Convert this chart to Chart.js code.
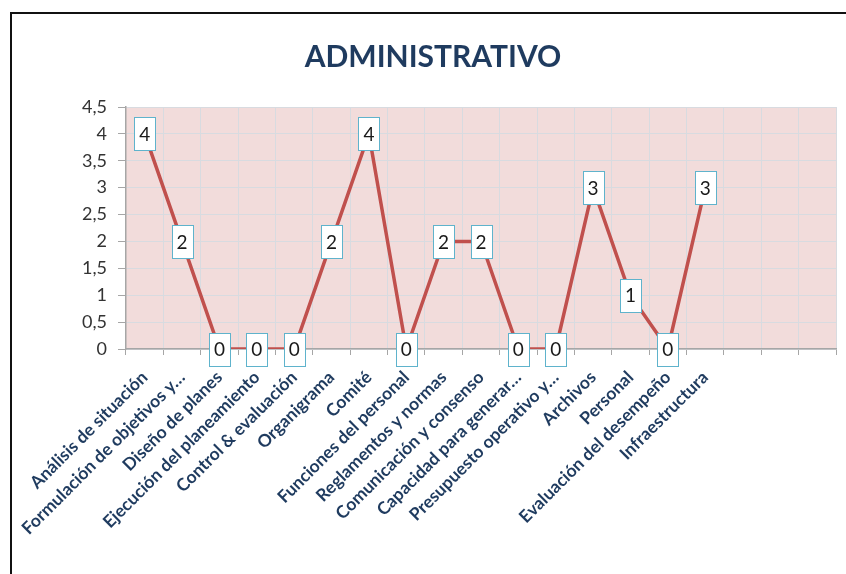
<!DOCTYPE html>
<html>
<head>
<meta charset="utf-8">
<script src="https://cdn.jsdelivr.net/npm/chart.js@4.4.1/dist/chart.umd.min.js"></script>
<style>
  body { margin: 0; background: #fff; }
  #frame { position: absolute; left: 10px; top: 12px; width: 836px; height: 562px;
           border-top: 2px solid #111; border-left: 2px solid #111; box-sizing: border-box; }
  #chart { position: absolute; left: 0; top: 0; }
</style>
</head>
<body>
<div id="frame"></div>
<canvas id="chart" width="846" height="574"></canvas>
<script>
'use strict';

/* ── Data ─────────────────────────────────────────────────── */
const chartTitle = 'ADMINISTRATIVO';
const categories = [
  'Análisis de situación', 'Formulación de objetivos y…', 'Diseño de planes',
  'Ejecución del planeamiento', 'Control & evaluación', 'Organigrama', 'Comité',
  'Funciones del personal', 'Reglamentos y normas', 'Comunicación y consenso',
  'Capacidad para generar…', 'Presupuesto operativo y…', 'Archivos', 'Personal',
  'Evaluación del desempeño', 'Infraestructura', '', '', ''
];
const values = [4, 2, 0, 0, 0, 2, 4, 0, 2, 2, 0, 0, 3, 1, 0, 3];
const yMin = 0, yMax = 4.5, yStep = 0.5;

/* ── Plugins ──────────────────────────────────────────────── */
const plotBackground = {
  id: 'plotBackground',
  beforeDraw(chart) {
    const { ctx, chartArea: a } = chart;
    ctx.save();
    ctx.fillStyle = '#f2dcdb';
    ctx.fillRect(a.left, a.top, a.right - a.left, a.bottom - a.top);
    ctx.restore();
  }
};

const boxLabels = {
  id: 'boxLabels',
  afterDatasetsDraw(chart) {
    const { ctx } = chart;
    const meta = chart.getDatasetMeta(0);
    ctx.save();
    ctx.font = '19px Lato';
    ctx.textAlign = 'center';
    ctx.textBaseline = 'middle';
    meta.data.forEach((pt, i) => {
      const v = values[i];
      if (v == null) return;
      const w = 21, h = 33;
      const x = Math.round(pt.x - w / 2) + 0.5, y = Math.round(pt.y - h / 2) + 0.5;
      ctx.fillStyle = '#fff';
      ctx.fillRect(x, y, w, h);
      ctx.strokeStyle = '#5fb3cc';
      ctx.lineWidth = 1;
      ctx.strokeRect(x, y, w, h);
      ctx.fillStyle = '#1a1a1a';
      ctx.fillText(String(v), pt.x, pt.y + 1);
    });
    ctx.restore();
  }
};

/* ── Chart ────────────────────────────────────────────────── */
new Chart(document.getElementById('chart'), {
  type: 'line',
  data: {
    labels: categories,
    datasets: [{
      data: values,
      borderColor: '#c0504d',
      borderWidth: 3.5,
      pointRadius: 0,
      tension: 0,
    }]
  },
  options: {
    responsive: false,
    animation: false,
    layout: { padding: { left: 30, right: 10, top: 0, bottom: 0 } },
    plugins: {
      legend: { display: false },
      tooltip: { enabled: false },
      title: {
        display: true,
        text: chartTitle,
        color: '#1f3b5f',
        font: { family: 'Lato', size: 30, weight: 'bold', lineHeight: 1.2 },
        padding: { top: 39, bottom: 32 }
      }
    },
    scales: {
      x: {
        offset: true,
        grid: { offset: true, color: '#d8dbe0', tickColor: '#a6a6a6', tickLength: 6 },
        border: { color: '#a6a6a6', width: 1.5 },
        ticks: {
          autoSkip: false, minRotation: 45, maxRotation: 45, padding: 12,
          color: '#1f3b5f',
          font: { family: 'Lato', size: 17.5, weight: 'bold' }
        },
        afterFit(scale) { scale.height = 225; }
      },
      y: {
        min: yMin, max: yMax,
        grid: { color: '#d8dbe0', tickColor: '#a6a6a6', tickLength: 8 },
        border: { color: '#a6a6a6', width: 1.5 },
        ticks: {
          stepSize: yStep, padding: 11, color: '#333',
          font: { family: 'Lato', size: 18 },
          callback: v => String(v).replace('.', ',')
        },
        afterFit(scale) { scale.width = 96; }
      }
    }
  },
  plugins: [plotBackground, boxLabels]
});
</script>
</body>
</html>
